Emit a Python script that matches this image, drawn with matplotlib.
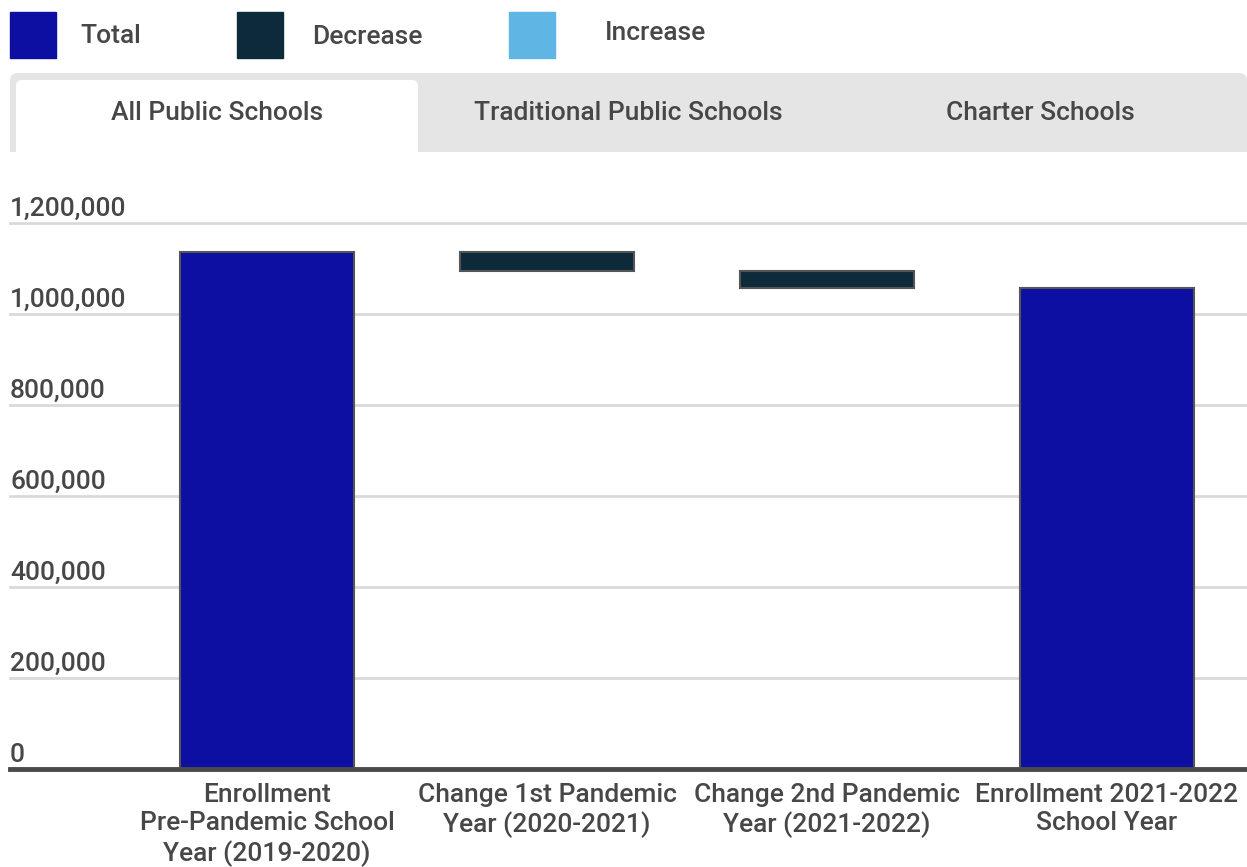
"""
瀑布图：公立学校入学人数变化
"""

import matplotlib
matplotlib.use('Agg')
import matplotlib.pyplot as plt
import matplotlib.transforms as mtransforms
from matplotlib.patches import FancyBboxPatch, Rectangle

plt.rcParams['font.family'] = ['Roboto', 'DejaVu Sans']
plt.rcParams['font.weight'] = 'medium'

# 数据
categories = [
    'Enrollment\nPre-Pandemic School\nYear (2019-2020)',
    'Change 1st Pandemic\nYear (2020-2021)',
    'Change 2nd Pandemic\nYear (2021-2022)',
    'Enrollment 2021-2022\nSchool Year',
]
start_total = 1136000
changes = [-42000, -37000]
end_total = 1057000
y_ticks = [0, 200000, 400000, 600000, 800000, 1000000, 1200000]
legend_names = ['Total', 'Decrease', 'Increase']
tab_names = ['All Public Schools', 'Traditional Public Schools', 'Charter Schools']

colors = {'Total': '#0c0fa2', 'Decrease': '#0d2a3a', 'Increase': '#5fb6e5'}
text_color = '#474747'
fs = 19

W, H = 1247, 867
fig = plt.figure(figsize=(W / 100, H / 100), dpi=100)

# 主图区域 (像素换算)
ax = fig.add_axes([10 / W, (H - 769) / H, 1 - 10 / W, (769 - 223) / H])
ax.set_xlim(-0.918, 3.5)
ax.set_ylim(0, 1200000)

# 计算瀑布图的柱子
heights = [start_total]
bottoms = [0]
bar_colors = [colors['Total']]
level = start_total
for c in changes:
    new_level = level + c
    bottoms.append(min(level, new_level))
    heights.append(abs(c))
    bar_colors.append(colors['Decrease'] if c < 0 else colors['Increase'])
    level = new_level
heights.append(end_total)
bottoms.append(0)
bar_colors.append(colors['Total'])

x = list(range(len(categories)))
ax.bar(x, heights, bottom=bottoms, width=0.62, color=bar_colors,
       edgecolor='#555555', linewidth=1.5, zorder=3)

# 网格线和刻度标签
for t in y_ticks[1:]:
    ax.axhline(t, color='#d9d9d9', linewidth=2, zorder=1, clip_on=False)
ax.axhline(0, color='#4a4a4a', linewidth=3.5, zorder=4, clip_on=False)

trans = mtransforms.blended_transform_factory(ax.transAxes, ax.transData)
for t in y_ticks:
    ax.annotate(f'{t:,}', (0, t), xycoords=trans, xytext=(0, 1.5),
                textcoords='offset points', ha='left', va='bottom',
                fontsize=fs, color=text_color, annotation_clip=False)

ax.set_yticks([])
ax.set_xticks(x)
ax.set_xticklabels(categories, fontsize=fs, color=text_color, linespacing=1.24)
ax.tick_params(axis='x', length=0, pad=10)
for s in ax.spines.values():
    s.set_visible(False)

# 顶部图例和标签页 (装饰)
ov = fig.add_axes([0, 0, 1, 1], zorder=-1)
ov.set_xlim(0, W)
ov.set_ylim(H, 0)
ov.axis('off')

legend_x = [10, 237, 509]
text_x = [80, 312, 605]
text_y = [36, 37, 33]
for name, lx, tx, ty in zip(legend_names, legend_x, text_x, text_y):
    ov.add_patch(Rectangle((lx, 12), 46, 46, color=colors[name]))
    ov.text(tx, ty, name, fontsize=fs, color=text_color, va='center', ha='left')

ov.add_patch(FancyBboxPatch((10, 73), W - 10, 79,
                            boxstyle='round,pad=0,rounding_size=8',
                            facecolor='#e5e5e5', edgecolor='none'))
ov.add_patch(Rectangle((10, 140), W - 10, 12, facecolor='#e5e5e5', edgecolor='none'))
ov.add_patch(FancyBboxPatch((16, 80), 402, 72,
                            boxstyle='round,pad=0,rounding_size=6',
                            facecolor='white', edgecolor='none'))
ov.add_patch(Rectangle((16, 140), 402, 12, facecolor='white', edgecolor='none'))

tab_x = [217, 628, 1040]
for name, tx in zip(tab_names, tab_x):
    ov.text(tx, 113, name, fontsize=fs, color=text_color, va='center', ha='center')

fig.savefig('out.png', dpi=100)
